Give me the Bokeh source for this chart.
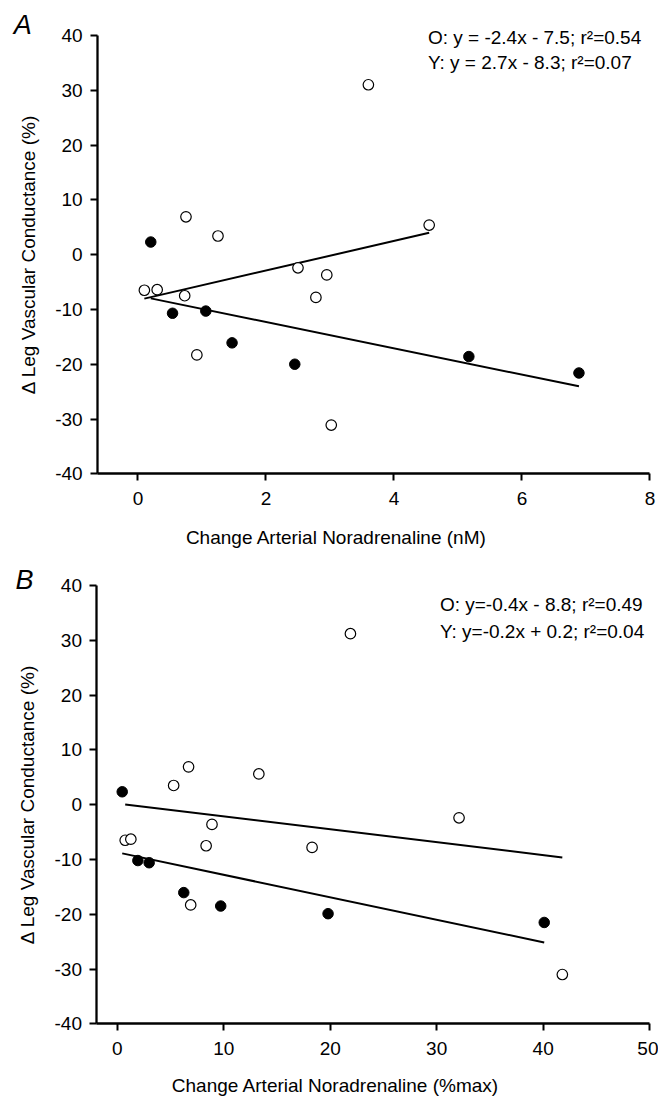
from bokeh.plotting import figure
from bokeh.layouts import column
from bokeh.models import Label, FixedTicker, Range1d
from bokeh.embed import file_html
from bokeh.resources import INLINE

# ---------------- data ----------------
# Panel A: change arterial noradrenaline (nM)
a_open_x = [3.6, 4.55, 0.75, 1.25, 2.5, 2.95, 0.1, 0.3, 0.73, 2.78, 0.92, 3.02]
a_open_y = [31.0, 5.4, 6.9, 3.4, -2.4, -3.7, -6.5, -6.4, -7.5, -7.8, -18.3, -31.1]
a_fill_x = [0.2, 0.54, 1.06, 1.47, 2.45, 5.17, 6.89]
a_fill_y = [2.3, -10.7, -10.3, -16.1, -20.0, -18.6, -21.6]

# Panel B: change arterial noradrenaline (%max)
b_open_x = [21.9, 13.3, 6.7, 5.3, 32.1, 8.9, 0.75, 1.28, 8.35, 18.3, 6.9, 41.8]
b_open_y = [31.2, 5.6, 6.9, 3.5, -2.4, -3.6, -6.5, -6.3, -7.5, -7.8, -18.3, -31.0]
b_fill_x = [0.47, 1.94, 3.0, 6.25, 9.72, 19.8, 40.1]
b_fill_y = [2.35, -10.2, -10.6, -16.05, -18.5, -19.9, -21.5]

# regression lines (slope, intercept) as drawn
a_fill_fit = (-2.4, -7.5)
a_open_fit = (2.7, -8.3)
b_fill_fit = (-0.41, -8.7)
b_open_fit = (-0.235, 0.2)

a_eq = ["O: y = -2.4x - 7.5; r\u00b2=0.54", "Y: y = 2.7x - 8.3; r\u00b2=0.07"]
b_eq = ["O: y=-0.4x - 8.8; r\u00b2=0.49", "Y: y=-0.2x + 0.2; r\u00b2=0.04"]

y_ticks = [-40, -30, -20, -10, 0, 10, 20, 30, 40]
y_tick_labels = ["-40", "-30", "-20", "-10", "0", "10", "20", "30", "40"]
a_x_ticks = [0, 2, 4, 6, 8]
a_x_tick_labels = ["0", "2", "4", "6", "8"]
b_x_ticks = [0, 10, 20, 30, 40, 50]
b_x_tick_labels = ["0", "10", "20", "30", "40", "50"]

y_title = "\u0394 Leg Vascular Conductance (%)"
a_x_title = "Change Arterial Noradrenaline (nM)"
b_x_title = "Change Arterial Noradrenaline (%max)"

FONT = "Liberation Sans"
FS = "19px"


def make_panel(height, xr, yr, y_axis_at, x_bounds, xticks, xlabels,
               xtitle, xtitle_pos,
               ox, oy, fx, fy, ofit, ffit, eqs, eq_x, eq_y, letter, let_pos):
    p = figure(width=658, height=height, x_range=Range1d(*xr), y_range=Range1d(*yr),
               output_backend="svg", toolbar_location=None, title=None,
               min_border_left=0, min_border_right=0,
               min_border_top=0, min_border_bottom=0)
    p.outline_line_color = None
    p.grid.visible = False
    p.background_fill_color = "white"
    p.border_fill_color = "white"

    p.xaxis.ticker = FixedTicker(ticks=xticks)
    p.xaxis.major_label_overrides = dict(zip(xticks, xlabels))
    p.yaxis.ticker = FixedTicker(ticks=y_ticks)
    p.yaxis.major_label_overrides = dict(zip(y_ticks, y_tick_labels))
    p.xaxis.fixed_location = -40
    p.xaxis.bounds = x_bounds
    p.yaxis.fixed_location = y_axis_at
    p.yaxis.bounds = (-40, 40)

    for ax in (p.xaxis, p.yaxis):
        ax.axis_line_width = 2.3
        ax.axis_line_color = "black"
        ax.major_tick_line_width = 2
        ax.major_tick_line_color = "black"
        ax.major_tick_in = 0
        ax.major_tick_out = 7
        ax.minor_tick_line_color = None
        ax.major_label_text_font = FONT
        ax.major_label_text_font_size = FS
        ax.major_label_text_color = "black"
        ax.axis_label_text_font = FONT
        ax.axis_label_text_font_size = FS
        ax.axis_label_text_font_style = "normal"
        ax.axis_label_text_color = "black"
    p.xaxis.major_label_standoff = 11
    p.yaxis.major_label_standoff = 8
    p.yaxis.axis_label = y_title
    p.yaxis.axis_label_standoff = 13

    # x axis title (offset to the left, as in the original)
    p.add_layout(Label(x=xtitle_pos[0], y=xtitle_pos[1], text=xtitle, text_font=FONT,
                       text_font_size=FS, text_align="center", text_baseline="middle",
                       text_color="black"))

    # regression lines across each group's x extent
    for xs, (m, c) in ((fx, ffit), (ox, ofit)):
        x0, x1 = min(xs), max(xs)
        p.line([x0, x1], [m * x0 + c, m * x1 + c], line_color="black", line_width=2)

    p.scatter(ox, oy, size=10.5, marker="circle", fill_color="white",
              line_color="black", line_width=1.2)
    p.scatter(fx, fy, size=10.5, marker="circle", fill_color="black",
              line_color="black", line_width=1)

    for t, yy in zip(eqs, eq_y):
        p.add_layout(Label(x=eq_x, y=yy, text=t, text_font=FONT, text_font_size=FS,
                           text_baseline="middle", text_align="left", text_color="black"))
    p.add_layout(Label(x=let_pos[0], y=let_pos[1], text=letter, text_font=FONT,
                       text_font_size="27px", text_font_style="italic",
                       text_baseline="middle", text_align="center", text_color="black"))
    return p


pA = make_panel(556, (-2.148, 8.133), (-55.09, 46.38), -0.63, (-0.63, 8),
                a_x_ticks, a_x_tick_labels, a_x_title, (3.10, -51.57),
                a_open_x, a_open_y, a_fill_x, a_fill_y, a_open_fit, a_fill_fit,
                a_eq, 4.53, [39.69, 35.12], "A", (-1.80, 41.82))
pB = make_panel(543, (-10.96, 50.83), (-53.81, 45.29), -1.9, (-1.9, 50),
                b_x_ticks, b_x_tick_labels, b_x_title, (20.5, -51.2),
                b_open_x, b_open_y, b_fill_x, b_fill_y, b_open_fit, b_fill_fit,
                b_eq, 30.3, [36.44, 31.69], "B", (-8.70, 41.09))

layout = column(pA, pB, spacing=0)
open("out.html", "w").write(file_html(layout, INLINE))
